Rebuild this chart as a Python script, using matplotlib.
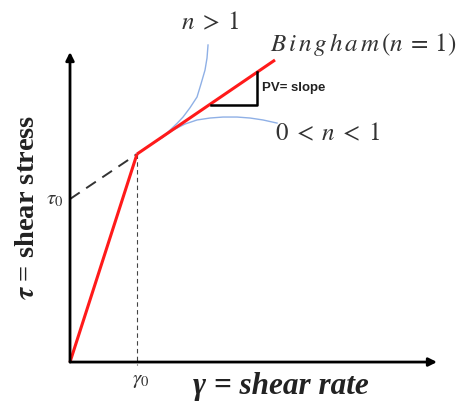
import matplotlib.pyplot as plt

plt.rcParams['mathtext.fontset'] = 'stix'

# Yield point and Bingham line (gamma in units of gamma0, tau in units of tau0)
gamma0 = 1.0
tau0 = 1.0
tau_yield = 1.276
bingham_x = [1.0, 3.06]
bingham_y = [1.276, 1.853]

# Linear region below the yield point
elastic_x = [0.0, 1.0]
elastic_y = [0.0, 1.276]

# Extrapolated Bingham line back to tau0
extrap_x = [0.0, 1.0]
extrap_y = [1.0, 1.276]

# Slope triangle
tri_x = [2.10, 2.79, 2.79]
tri_y = [1.577, 1.577, 1.779]

# Shear-thickening branch (n > 1)
thick_x = [1.0, 1.194, 1.388, 1.493, 1.60, 1.687, 1.791, 1.896, 1.955, 2.015, 2.045, 2.060]
thick_y = [1.276, 1.331, 1.380, 1.423, 1.465, 1.503, 1.560, 1.626, 1.706, 1.791, 1.865, 1.945]

# Shear-thinning branch (0 < n < 1)
thin_x = [1.0, 1.194, 1.388, 1.537, 1.716, 1.896, 2.090, 2.284, 2.493, 2.687, 2.881, 3.090]
thin_y = [1.276, 1.331, 1.380, 1.423, 1.460, 1.485, 1.497, 1.503, 1.503, 1.497, 1.485, 1.466]

fig = plt.figure(figsize=(4.62, 4.01), dpi=100)
ax = fig.add_axes([0, 0, 1, 1])
ax.set_xlim(-1.045, 5.851)
ax.set_ylim(-0.239, 2.221)
ax.axis('off')

# Axes with arrow heads
arrow = dict(arrowstyle='-|>', lw=2, color='black', mutation_scale=12, shrinkA=0, shrinkB=0)
ax.annotate('', xy=(0, 1.902), xytext=(0, 0), arrowprops=arrow)
ax.annotate('', xy=(5.478, 0), xytext=(0, 0), arrowprops=arrow)

# Guide lines
ax.plot([gamma0, gamma0], [tau_yield, -0.02], color='#444444', lw=0.8, ls=(0, (4, 3)))
ax.plot(extrap_x, extrap_y, color='#333333', lw=1.4, ls=(0, (6, 4)))

# Flow curves
ax.plot(thick_x, thick_y, color='#8fb0e6', lw=1.0)
ax.plot(thin_x, thin_y, color='#8fb0e6', lw=1.0)
ax.plot(elastic_x, elastic_y, color='#ff1a1a', lw=2.2, solid_capstyle='butt')
ax.plot(bingham_x, bingham_y, color='#ff1a1a', lw=2.2, solid_capstyle='butt')
ax.plot(tri_x, tri_y, color='black', lw=1.8)

# Labels
tc = '#333333'
ax.text(-0.224, tau0, r'$\tau_0$', fontsize=15, color=tc, ha='center', va='center')
ax.text(1.05, -0.11, r'$\gamma_0$', fontsize=15, color=tc, ha='center', va='center')
ax.text(2.09, 2.086, r'$n\;>\;1$', fontsize=18, color=tc, ha='center', va='center')
ax.text(2.985, 1.945, r'$B\,i\,n\,g\,h\,a\,m\,(n\:=\:1)$', fontsize=18, color=tc,
        ha='left', va='center')
ax.text(3.06, 1.405, r'$0\;<\;n\;<\;1$', fontsize=18, color=tc, ha='left', va='center')
ax.text(2.866, 1.681, 'PV= slope', fontsize=9.5, color='#222222', fontweight='bold',
        family='Liberation Sans', ha='left', va='center')

ax.text(3.149, -0.147, 'γ = shear rate', fontsize=22.5, fontweight='bold', fontstyle='italic',
        family='Liberation Serif', color='#222222', ha='center', va='center')
ax.text(-0.63, 0.95, r'$\boldsymbol{\tau}$ = shear stress', fontsize=20.5, fontweight='bold',
        family='Liberation Serif', color='#222222', rotation=90, ha='center', va='center')

fig.savefig('out.png', dpi=100)
